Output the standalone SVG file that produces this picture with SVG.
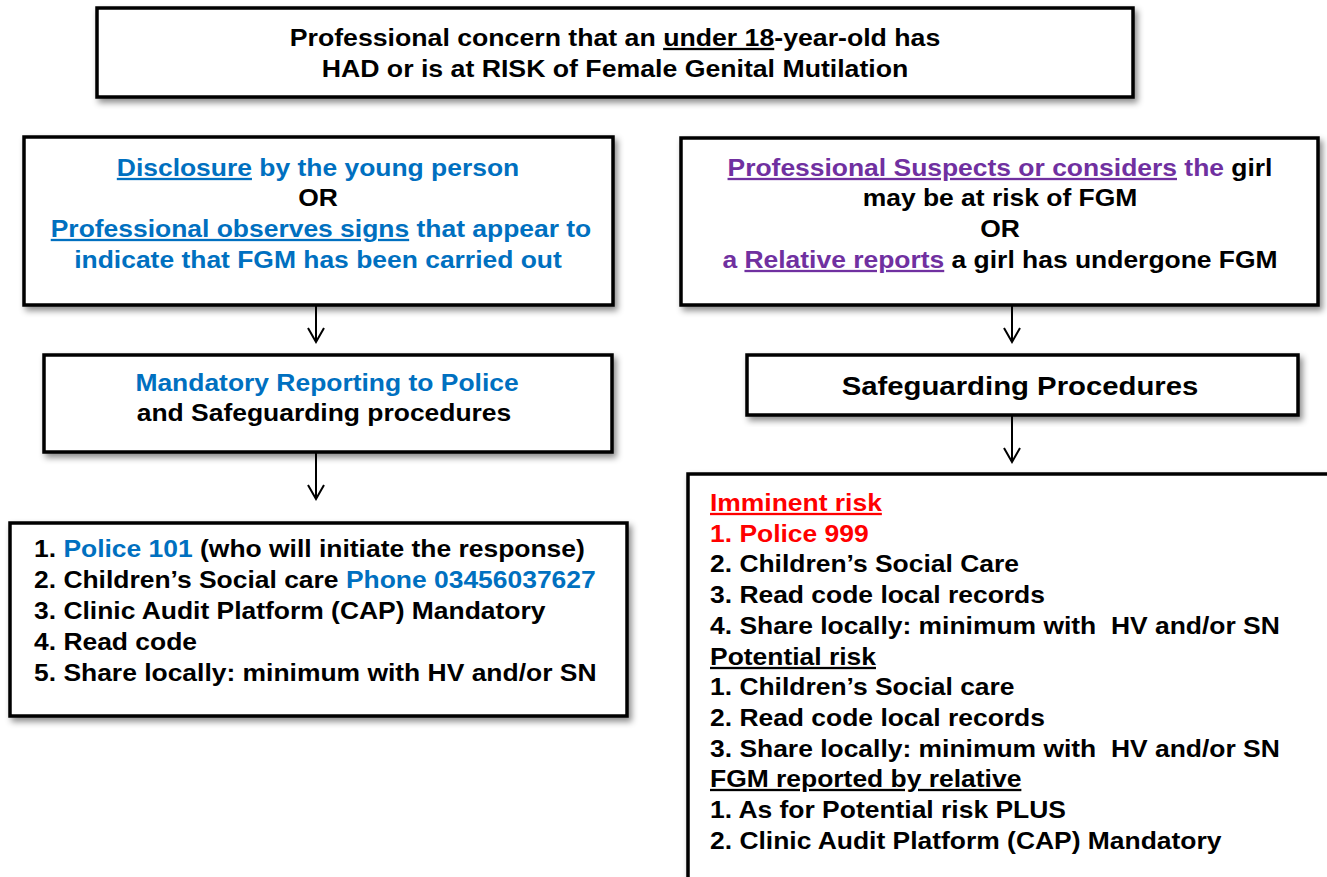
<svg xmlns="http://www.w3.org/2000/svg" width="1327" height="877" viewBox="0 0 1327 877">
<defs>
<filter id="sh" x="-10%" y="-10%" width="125%" height="130%">
<feDropShadow dx="3" dy="4" stdDeviation="3" flood-color="#000" flood-opacity="0.45"/>
</filter>
<marker id="arr" markerUnits="userSpaceOnUse" markerWidth="20" markerHeight="20" viewBox="-18 -10 20 20" refX="0" refY="0" orient="auto">
<path d="M -14 -8 L 0 0 L -14 8" fill="none" stroke="#000" stroke-width="2"/>
</marker>
</defs>
<style>
.box{fill:#fff;stroke:#000;stroke-width:3.5;filter:url(#sh)}
text{font-family:"Liberation Sans",Arial,sans-serif;font-weight:bold;font-size:23px;fill:#000}
.c{text-anchor:middle}
.b{fill:#0070C0}
.p{fill:#7030A0}
.r{fill:#FF0000}
.u{text-decoration:underline}
.conn line{stroke:#000;stroke-width:2;marker-end:url(#arr)}
</style>
<rect width="1327" height="877" fill="#fff"/>

<g id="n-top">
<rect class="box" x="97" y="8" width="1036" height="89"/>
<text class="c" transform="translate(615,46) scale(1.16,1)">Professional concern that an <tspan class="u">under 18</tspan>-year-old has</text>
<text class="c" transform="translate(615,77) scale(1.16,1)">HAD or is at RISK of Female Genital Mutilation</text>
</g>

<g id="n-disclosure">
<rect class="box" x="24" y="137" width="589" height="168"/>
<text class="c b" transform="translate(318,176) scale(1.15,1)"><tspan class="u">Disclosure</tspan> by the young person</text>
<text class="c" transform="translate(318,206) scale(1.15,1)">OR</text>
<text class="c b" transform="translate(321,237) scale(1.15,1)"><tspan class="u">Professional observes signs</tspan> that appear to</text>
<text class="c b" transform="translate(318,268) scale(1.15,1)">indicate that FGM has been carried out</text>
</g>

<g id="n-suspects">
<rect class="box" x="681" y="138" width="637" height="167"/>
<text class="c" transform="translate(1000,176) scale(1.15,1)"><tspan class="p u">Professional Suspects or considers</tspan><tspan class="p"> the</tspan> girl</text>
<text class="c" transform="translate(1000,206) scale(1.15,1)">may be at risk of FGM</text>
<text class="c" transform="translate(1000,237) scale(1.15,1)">OR</text>
<text class="c" transform="translate(1000,268) scale(1.15,1)"><tspan class="p">a </tspan><tspan class="p u">Relative reports</tspan> a girl has undergone FGM</text>
</g>

<g id="n-mandatory">
<rect class="box" x="44" y="355" width="568" height="97"/>
<text class="c b" transform="translate(327,391) scale(1.15,1)">Mandatory Reporting to Police</text>
<text class="c" transform="translate(324,421) scale(1.15,1)">and Safeguarding procedures</text>
</g>

<g id="n-safeguarding">
<rect class="box" x="747" y="355" width="551" height="60"/>
<text class="c" style="font-size:25.5px" transform="translate(1020,395) scale(1.15,1)">Safeguarding Procedures</text>
</g>

<g id="n-list-left">
<rect class="box" x="10" y="523" width="617" height="193"/>
<text transform="translate(34,557) scale(1.15,1)">1. <tspan class="b">Police 101</tspan> (who will initiate the response)</text>
<text transform="translate(34,588) scale(1.15,1)">2. Children’s Social care <tspan class="b">Phone 03456037627</tspan></text>
<text transform="translate(34,619) scale(1.15,1)">3. Clinic Audit Platform (CAP) Mandatory</text>
<text transform="translate(34,650) scale(1.15,1)">4. Read code</text>
<text transform="translate(34,681) scale(1.15,1)">5. Share locally: minimum with HV and/or SN</text>
</g>

<g id="n-list-right">
<rect class="box" x="688" y="474" width="700" height="460"/>
<text class="r u" transform="translate(710,511) scale(1.15,1)">Imminent risk</text>
<text class="r" transform="translate(710,542) scale(1.15,1)">1. Police 999</text>
<text transform="translate(710,572) scale(1.15,1)">2. Children’s Social Care</text>
<text transform="translate(710,603) scale(1.15,1)">3. Read code local records</text>
<text transform="translate(710,634) scale(1.15,1)" xml:space="preserve">4. Share locally: minimum with  HV and/or SN</text>
<text class="u" transform="translate(710,665) scale(1.15,1)">Potential risk</text>
<text transform="translate(710,695) scale(1.15,1)">1. Children’s Social care</text>
<text transform="translate(710,726) scale(1.15,1)">2. Read code local records</text>
<text transform="translate(710,757) scale(1.15,1)" xml:space="preserve">3. Share locally: minimum with  HV and/or SN</text>
<text class="u" transform="translate(710,787) scale(1.15,1)">FGM reported by relative</text>
<text transform="translate(710,818) scale(1.15,1)">1. As for Potential risk PLUS</text>
<text transform="translate(710,849) scale(1.15,1)">2. Clinic Audit Platform (CAP) Mandatory</text>
</g>

<g id="connectors" class="conn">
<line x1="316" y1="306" x2="316" y2="342"/>
<line x1="316" y1="453" x2="316" y2="499"/>
<line x1="1012" y1="306" x2="1012" y2="342"/>
<line x1="1012" y1="416" x2="1012" y2="462"/>
</g>
</svg>
